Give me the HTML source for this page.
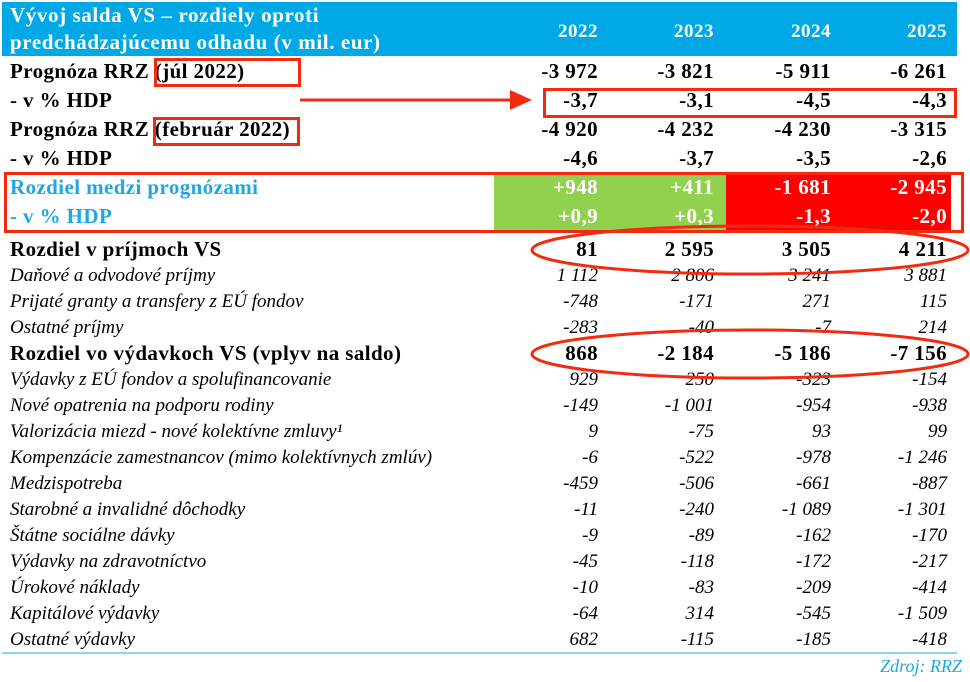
<!DOCTYPE html>
<html><head><meta charset="utf-8">
<style>
body{margin:0;background:#fff;}
#wrap{position:relative;width:970px;height:682px;overflow:hidden;font-family:"Liberation Serif",serif;}
.t{position:absolute;white-space:nowrap;line-height:1;}
.hdr{position:absolute;left:2px;top:2px;width:955px;height:54px;background:#00a9e6;}
.box{position:absolute;border:3px solid #f22b10;box-sizing:border-box;}
</style></head>
<body>
<div id="wrap">
  <div class="hdr"></div>
  <div class="t" style="left:10px;top:2px;color:#fff;font-weight:bold;font-size:21px;line-height:27px;letter-spacing:0.6px;">Vývoj salda VS – rozdiely oproti<br>predchádzajúcemu odhadu (v mil. eur)</div>
  <div style="position:absolute;left:494px;top:175px;width:232px;height:56px;background:#92d050"></div>
  <div style="position:absolute;left:726px;top:175px;width:225px;height:56px;background:#ff0000"></div>
  <div style="position:absolute;left:2px;top:652px;width:955px;height:2px;background:#8fd3ee"></div>
  <div class="t" style="right:8px;top:657px;color:#1ea7e0;font-style:italic;font-size:18px;">Zdroj: RRZ</div>
  <div id="rows"></div>
  <svg width="970" height="682" style="position:absolute;left:0;top:0">
    <line x1="300" y1="100" x2="512" y2="100" stroke="#f22b10" stroke-width="3"/>
    <polygon points="510,90 532,100 510,110" fill="#f22b10"/>
    <ellipse cx="750" cy="250" rx="218" ry="24" fill="none" stroke="#f22b10" stroke-width="3"/>
    <ellipse cx="750" cy="354" rx="218" ry="24" fill="none" stroke="#f22b10" stroke-width="3"/>
  </svg>
  <div class="box" style="left:154px;top:58px;width:147px;height:29px"></div>
  <div class="box" style="left:543px;top:88px;width:414px;height:30px"></div>
  <div class="box" style="left:153px;top:117px;width:147px;height:29px"></div>
  <div class="box" style="left:4px;top:172px;width:960px;height:61px"></div>
</div>
<script>
const years=["2022","2023","2024","2025"];
const labels=["Prognóza RRZ (júl 2022)","- v % HDP","Prognóza RRZ (február 2022)","- v % HDP","Rozdiel medzi prognózami","- v % HDP","Rozdiel v príjmoch VS","Daňové a odvodové príjmy","Prijaté granty a transfery z EÚ fondov","Ostatné príjmy","Rozdiel vo výdavkoch VS (vplyv na saldo)","Výdavky z EÚ fondov a spolufinancovanie","Nové opatrenia na podporu rodiny","Valorizácia miezd - nové kolektívne zmluvy¹","Kompenzácie zamestnancov (mimo kolektívnych zmlúv)","Medzispotreba","Starobné a invalidné dôchodky","Štátne sociálne dávky","Výdavky na zdravotníctvo","Úrokové náklady","Kapitálové výdavky","Ostatné výdavky"];
const v2022=["-3 972","-3,7","-4 920","-4,6","+948","+0,9","81","1 112","-748","-283","868","929","-149","9","-6","-459","-11","-9","-45","-10","-64","682"];
const v2023=["-3 821","-3,1","-4 232","-3,7","+411","+0,3","2 595","2 806","-171","-40","-2 184","250","-1 001","-75","-522","-506","-240","-89","-118","-83","314","-115"];
const v2024=["-5 911","-4,5","-4 230","-3,5","-1 681","-1,3","3 505","3 241","271","-7","-5 186","-323","-954","93","-978","-661","-1 089","-162","-172","-209","-545","-185"];
const v2025=["-6 261","-4,3","-3 315","-2,6","-2 945","-2,0","4 211","3 881","115","214","-7 156","-154","-938","99","-1 246","-887","-1 301","-170","-217","-414","-1 509","-418"];
const cols=[v2022,v2023,v2024,v2025];
const colRight=[598,714,831,947];
const root=document.getElementById('rows');
function add(txt,css){const d=document.createElement('div');d.className='t';d.textContent=txt;d.style.cssText=css;root.appendChild(d);return d;}
years.forEach((y,j)=>{
  const d=add(y,`right:${970-colRight[j]}px;top:22px;color:#fff;font-weight:bold;font-size:19px;letter-spacing:0.5px;`);
  
  
});
labels.forEach((lab,i)=>{
  const cy = i<6 ? 72+i*29 : (i===6?250:276+(i-7)*26);
  const bold = i<7 || i===10;
  const fs = bold?21:19;
  const color = (i===4||i===5)?'#1ea7e0':'#000';
  const style=`font-size:${fs}px;${bold?'font-weight:bold;letter-spacing:0.4px;':'font-style:italic;'}`;
  const l=add(lab,`left:10px;top:${cy-fs/2-1}px;color:${color};${style}`);
  
  
  cols.forEach((c,j)=>{
    const vc=(i===4||i===5)?'#fff':'#000';
    const v=add(c[i],`right:${970-colRight[j]}px;top:${cy-fs/2-1}px;color:${vc};${style}`);
    
    
  });
});
</script>
</body></html>
